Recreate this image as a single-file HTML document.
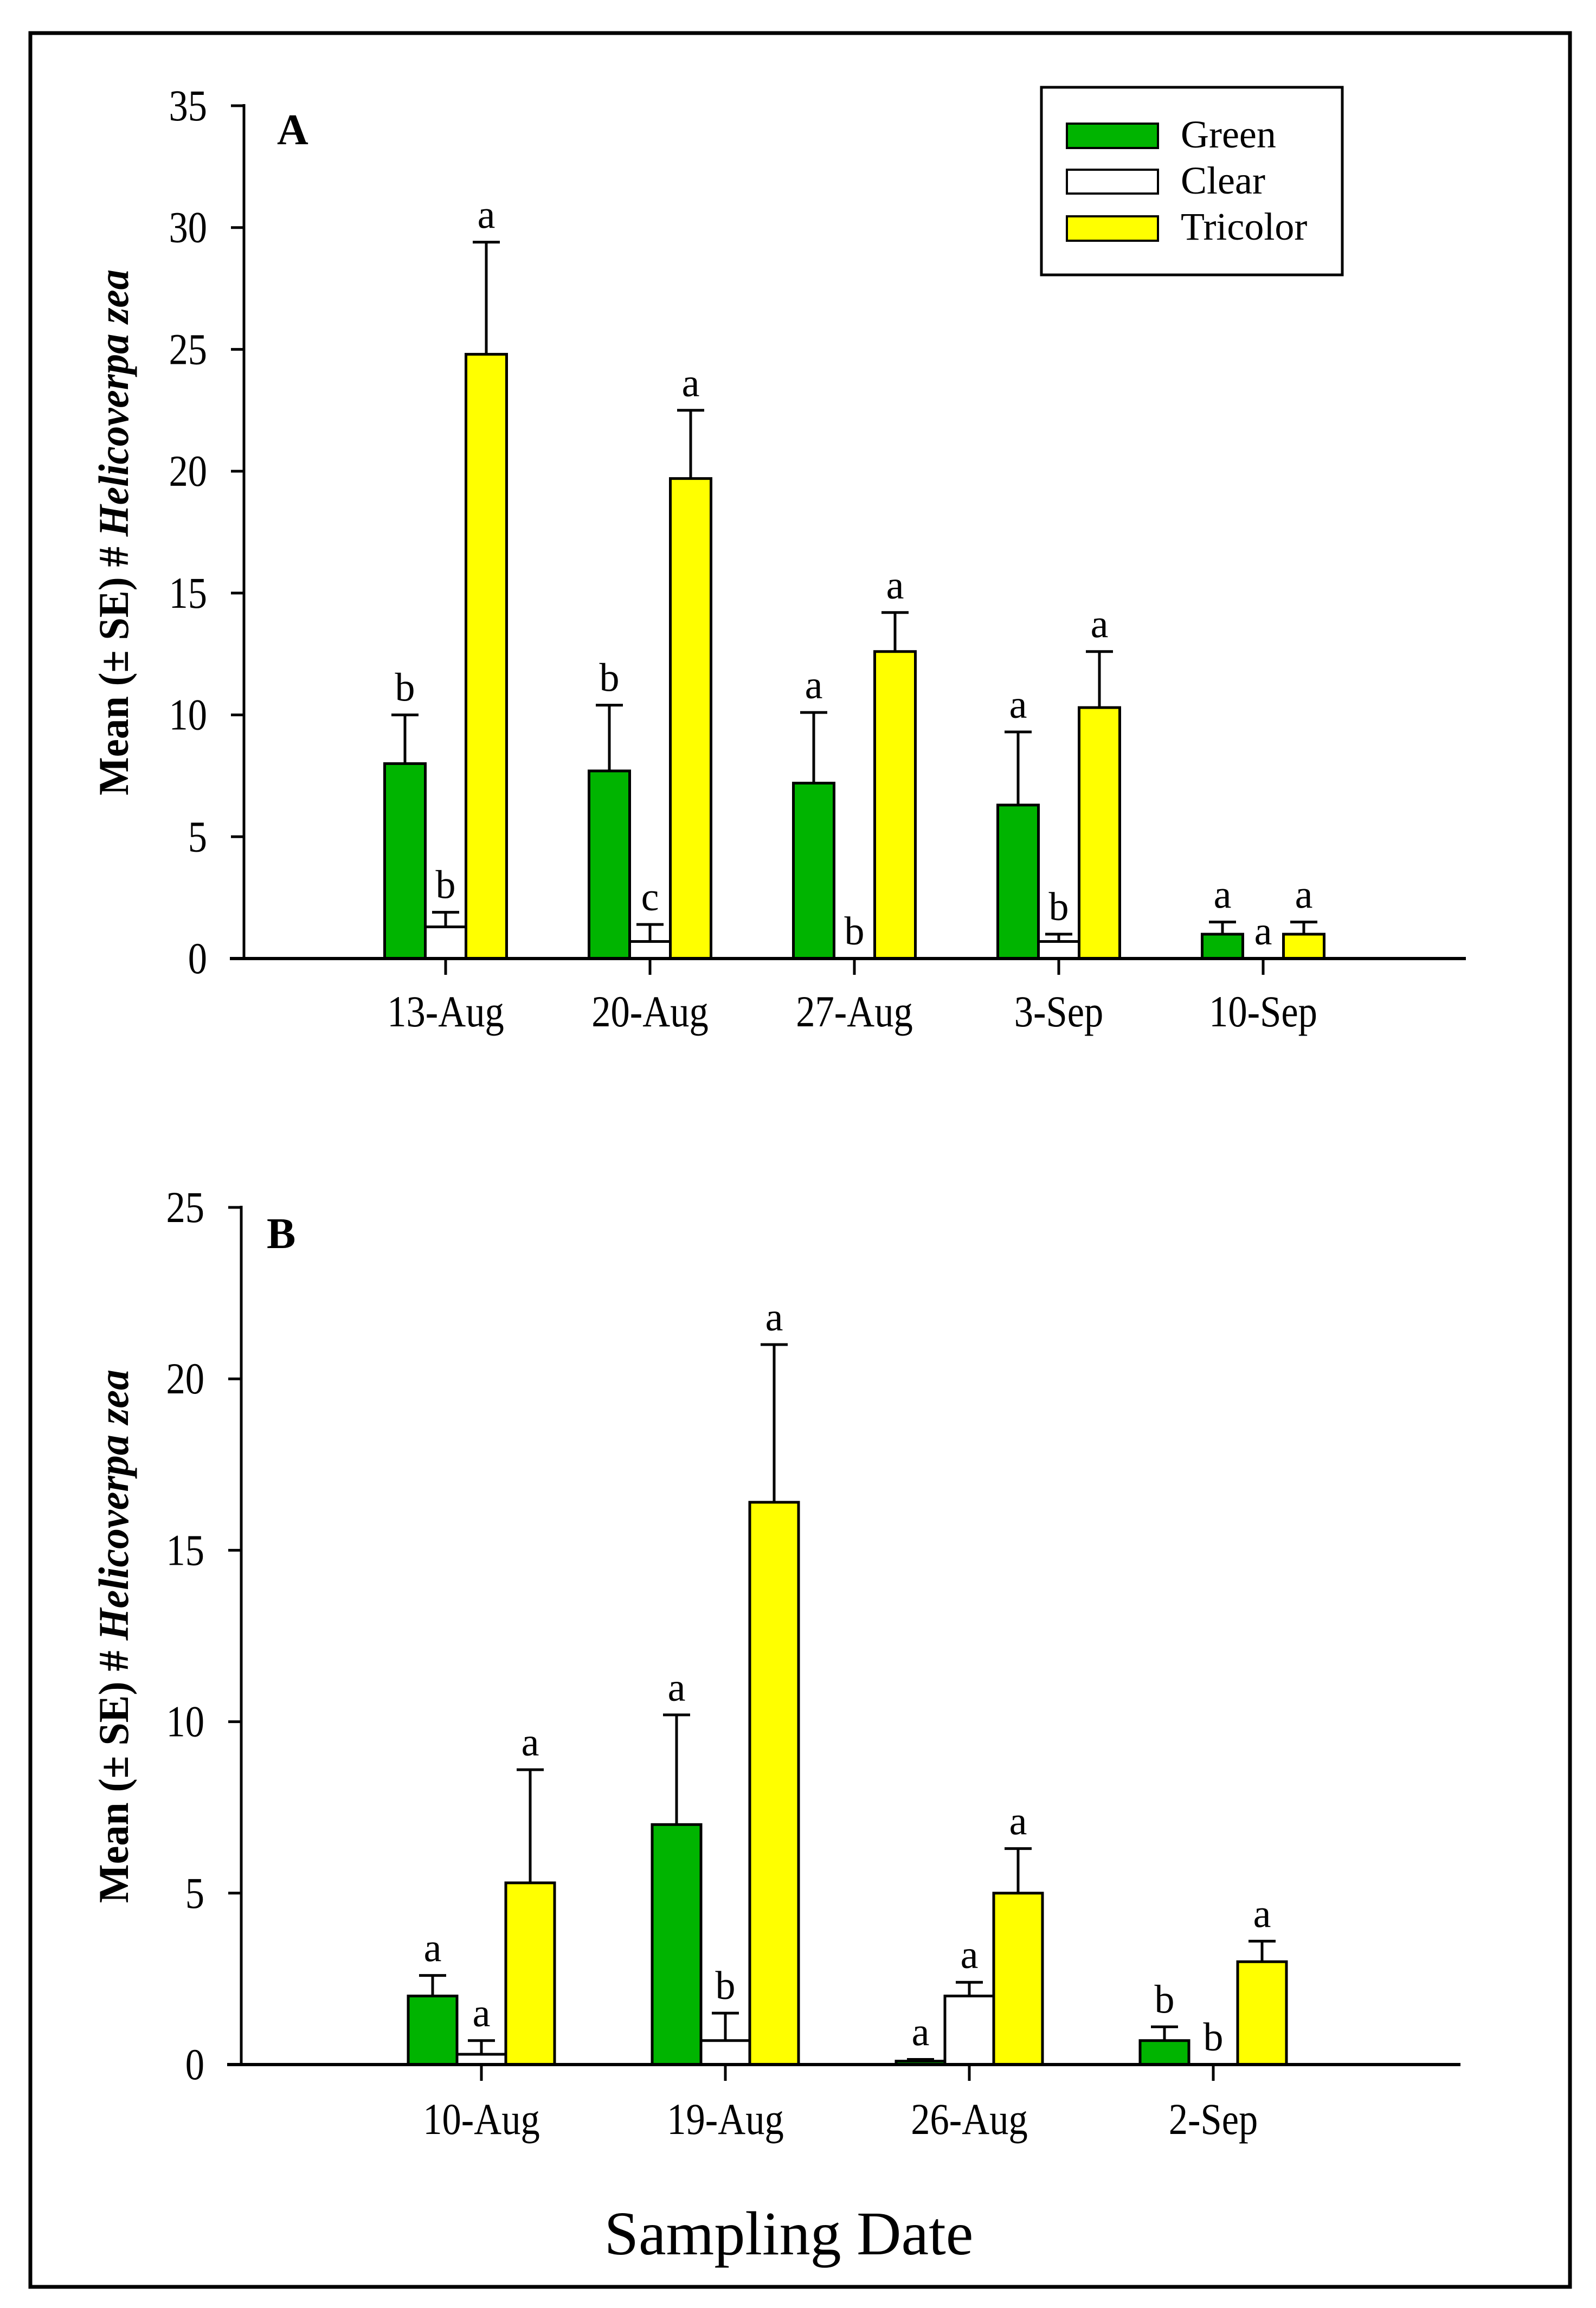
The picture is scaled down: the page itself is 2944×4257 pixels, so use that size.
<!DOCTYPE html>
<html><head><meta charset="utf-8"><style>
html,body{margin:0;padding:0;background:#fff;}
svg{display:block;}
text{font-family:"Liberation Serif",serif;fill:#000;}
</style></head><body>
<svg id="fig" width="2944" height="4257" viewBox="0 0 2944 4257" xmlns="http://www.w3.org/2000/svg">
<rect x="56" y="61" width="2840" height="4157" fill="#fff" stroke="#000" stroke-width="7"/>
<g id="panelA"></g>
<g id="panelB"></g>
<g>
<rect x="1921" y="161" width="555" height="346" fill="#fff" stroke="#000" stroke-width="5"/>
<rect x="1968" y="228" width="168" height="45" fill="#00b400" stroke="#000" stroke-width="4"/>
<rect x="1968" y="313" width="168" height="44" fill="#fff" stroke="#000" stroke-width="4"/>
<rect x="1968" y="399" width="168" height="45" fill="#ffff00" stroke="#000" stroke-width="4"/>
<text x="2178" y="272" font-size="72">Green</text>
<text x="2178" y="357" font-size="72">Clear</text>
<text x="2178" y="442" font-size="72">Tricolor</text>
</g>
<text x="1455" y="4158" font-size="114" text-anchor="middle">Sampling Date</text>
</svg>
<script>
const catsA = ["13-Aug","20-Aug","27-Aug","3-Sep","10-Sep"];
const greenA = [8.0, 7.7, 7.2, 6.3, 1.0];
const greenErrA = [10.0, 10.4, 10.1, 9.3, 1.5];
const clearA = [1.3, 0.7, 0, 0.7, 0];
const clearErrA = [1.9, 1.4, 0, 1.0, 0];
const triA = [24.8, 19.7, 12.6, 10.3, 1.0];
const triErrA = [29.4, 22.5, 14.2, 12.6, 1.5];
const greenLetA = ["b","b","a","a","a"];
const clearLetA = ["b","c","b","b","a"];
const triLetA = ["a","a","a","a","a"];
const ticksA = [0,5,10,15,20,25,30,35];

const catsB = ["10-Aug","19-Aug","26-Aug","2-Sep"];
const greenB = [2.0, 7.0, 0.1, 0.7];
const greenErrB = [2.6, 10.2, 0.15, 1.1];
const clearB = [0.3, 0.7, 2.0, 0];
const clearErrB = [0.7, 1.5, 2.4, 0];
const triB = [5.3, 16.4, 5.0, 3.0];
const triErrB = [8.6, 21.0, 6.3, 3.6];
const greenLetB = ["a","a","a","b"];
const clearLetB = ["a","b","a","b"];
const triLetB = ["a","a","a","a"];
const ticksB = [0,5,10,15,20,25];

const NS = "http://www.w3.org/2000/svg";
function mk(parent, tag, attrs, txt){
  const e = document.createElementNS(NS, tag);
  for (const k in attrs) e.setAttribute(k, attrs[k]);
  if (txt !== undefined) e.textContent = txt;
  parent.appendChild(e);
  return e;
}

function panel(g, cfg){
  const yS = v => cfg.y0 - (v - 0) * (cfg.y0 - cfg.yTop) / cfg.yMax;
  const xS = i => cfg.c0 + i * cfg.step;
  const ya = mk(g, "line", {x1:cfg.ax, y1:yS(cfg.yMax)-3, x2:cfg.ax, y2:cfg.y0, stroke:"#000","stroke-width":5});
  
  
  cfg.ticks.forEach(t => {
    const tl = mk(g, "line", {x1:cfg.ax-24, y1:yS(t), x2:cfg.ax, y2:yS(t), stroke:"#000","stroke-width":5});
    
    
    const tx = mk(g, "text", {transform:`translate(${cfg.ax-68},${yS(t)+27}) scale(0.86,1)`, "font-size":82, "text-anchor":"end"}, String(t));
    
    
  });
  const series = [
    {v:cfg.green, e:cfg.gErr, l:cfg.gLet, fill:"#00b400", name:"green"},
    {v:cfg.clear, e:cfg.cErr, l:cfg.cLet, fill:"#ffffff", name:"clear"},
    {v:cfg.tri, e:cfg.tErr, l:cfg.tLet, fill:"#ffff00", name:"tricolor"}
  ];
  cfg.cats.forEach((c, i) => {
    series.forEach((s, k) => {
      const cx = xS(i) + (k - 1) * cfg.bw;
      const x = cx - cfg.bw/2;
      const top = yS(s.v[i]);
      const et = yS(s.e[i]);
      if (s.e[i] > s.v[i]) {
        const el = mk(g, "line", {x1:cx, y1:top, x2:cx, y2:et, stroke:"#000","stroke-width":5});
        
        
        const ec = mk(g, "line", {x1:cx-25, y1:et, x2:cx+25, y2:et, stroke:"#000","stroke-width":5});
        
        
      }
      if (s.v[i] > 0) {
        const r = mk(g, "rect", {x:x, y:top, width:cfg.bw, height:cfg.y0-top, fill:s.fill, stroke:"#000","stroke-width":5});
        
        
      }
      const ly = Math.min(et, top) - 26;
      const lt = mk(g, "text", {x:cx, y:ly, "font-size":74, "text-anchor":"middle"}, s.l[i]);
      
      
    });
    const ct = mk(g, "line", {x1:xS(i), y1:cfg.y0, x2:xS(i), y2:cfg.y0+30, stroke:"#000","stroke-width":5});
    
    
    const cl = mk(g, "text", {transform:`translate(${xS(i)},${cfg.labY}) scale(0.86,1)`, "font-size":82, "text-anchor":"middle"}, c);
    
    
  });
  const xa = mk(g, "line", {x1:cfg.ax-26, y1:cfg.y0, x2:cfg.xEnd, y2:cfg.y0, stroke:"#000","stroke-width":6});
  
  
  const pl = mk(g, "text", {x:cfg.plx, y:cfg.ply, "font-size":80, "font-weight":"bold"}, cfg.plabel);
  
  
  const yt = mk(g, "text", {transform:`translate(${cfg.ytx},${cfg.ytc}) rotate(-90)`, "font-size":78, "font-weight":"bold", "text-anchor":"middle", textLength:cfg.ytl, lengthAdjust:"spacingAndGlyphs"});
  
  
  mk(yt, "tspan", {}, "Mean (\u00B1 SE) # ");
  mk(yt, "tspan", {"font-style":"italic"}, "Helicoverpa zea");
}

panel(document.getElementById("panelA"), {
  cats:catsA, green:greenA, gErr:greenErrA, clear:clearA, cErr:clearErrA, tri:triA, tErr:triErrA,
  gLet:greenLetA, cLet:clearLetA, tLet:triLetA, ticks:ticksA,
  yMax:35, y0:1768, yTop:195, ax:450, xEnd:2704, c0:822, step:377, bw:75, labY:1893,
  plabel:"A", plx:511, ply:266, ytx:236, ytc:982, ytl:970
});
panel(document.getElementById("panelB"), {
  cats:catsB, green:greenB, gErr:greenErrB, clear:clearB, cErr:clearErrB, tri:triB, tErr:triErrB,
  gLet:greenLetB, cLet:clearLetB, tLet:triLetB, ticks:ticksB,
  yMax:25, y0:3808, yTop:2227, ax:445, xEnd:2694, c0:888, step:450, bw:90, labY:3936,
  plabel:"B", plx:492, ply:2302, ytx:236, ytc:3018, ytl:984
});
</script>
</body></html>
